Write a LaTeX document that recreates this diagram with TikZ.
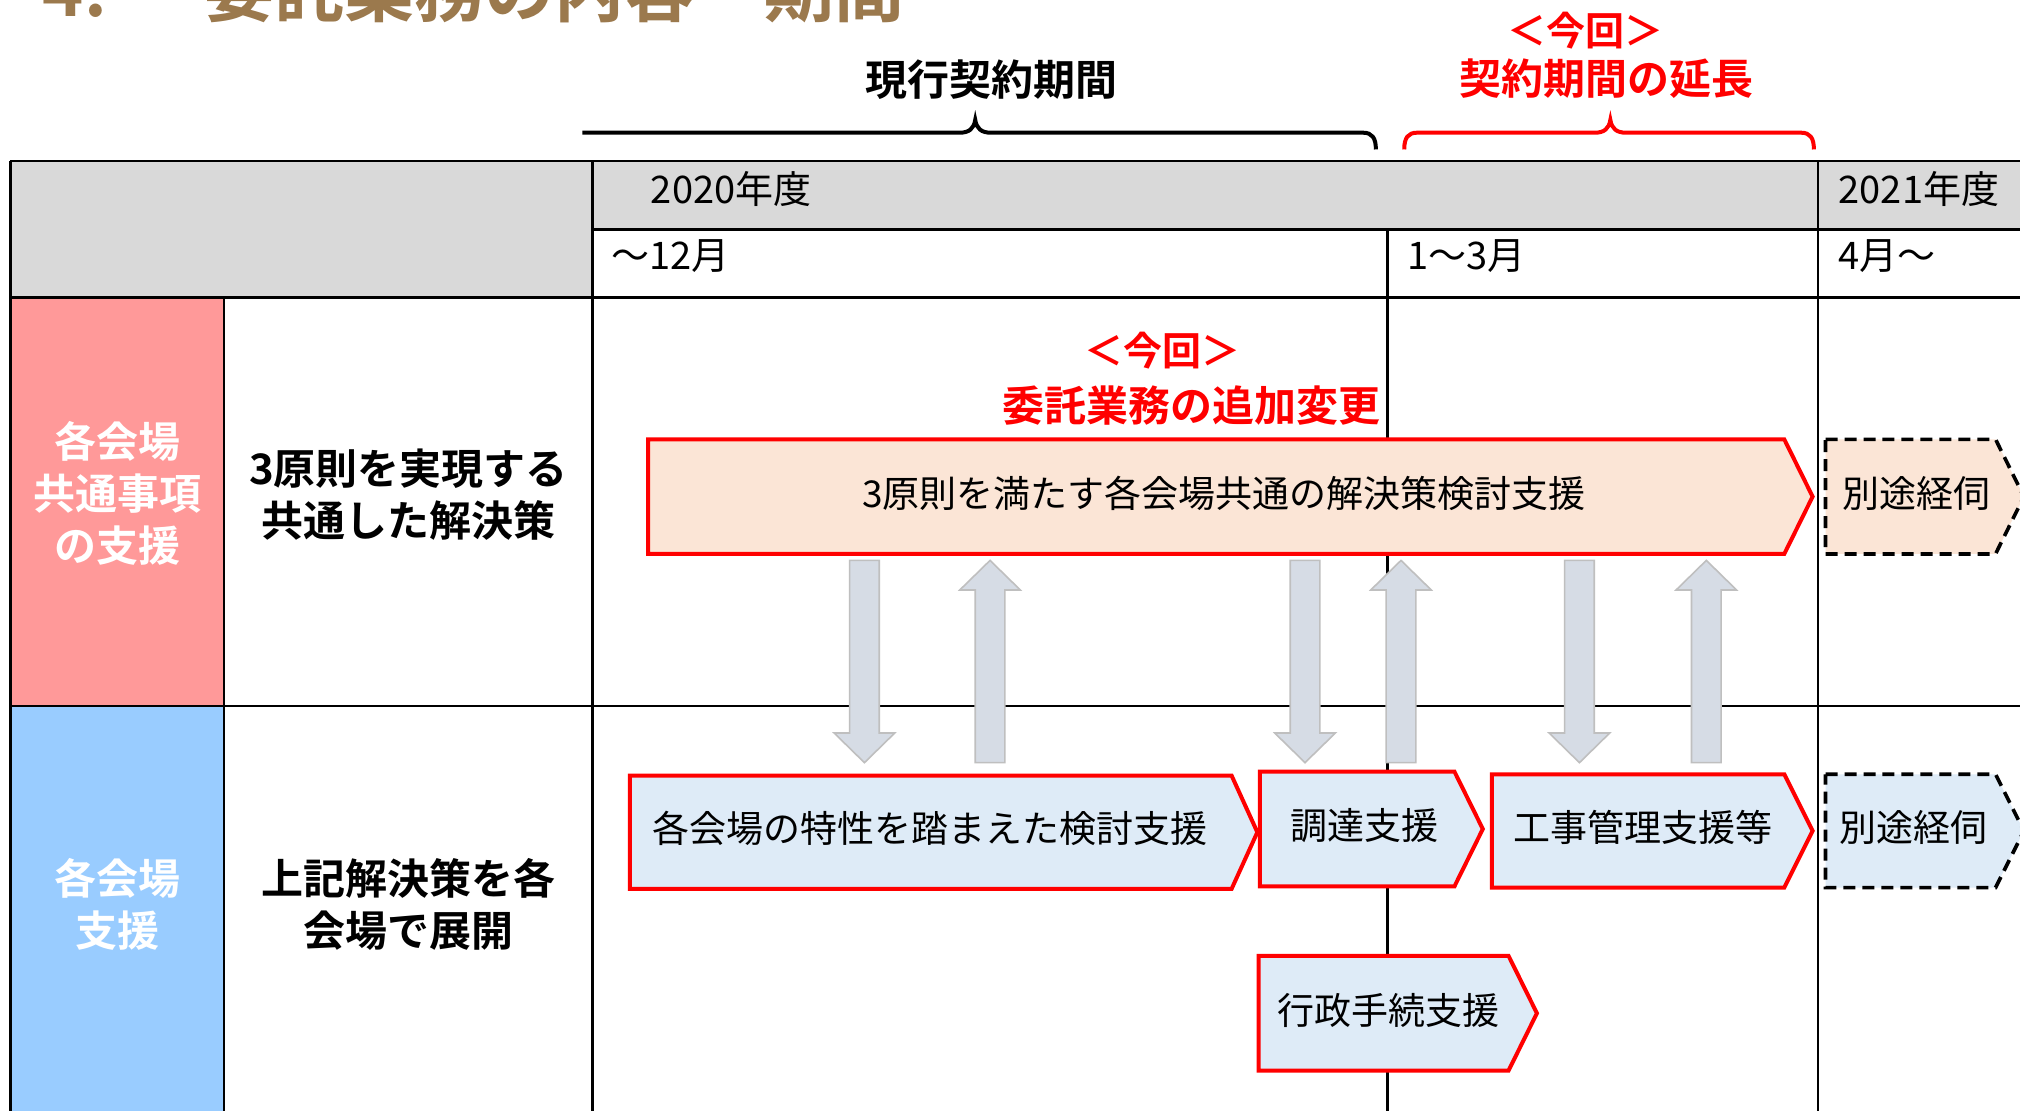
\documentclass[tikz,border=0pt]{standalone}
\usepackage{fontspec}
\setmainfont{Noto Sans CJK JP}[BoldFont={* Bold}]
\definecolor{titlebrown}{RGB}{155,121,77}
\definecolor{hdrgray}{RGB}{217,217,217}
\definecolor{pinkcell}{RGB}{255,153,153}
\definecolor{bluecell}{RGB}{153,204,255}
\definecolor{peach}{RGB}{251,229,214}
\definecolor{lightblue}{RGB}{222,235,247}
\definecolor{arrowgray}{RGB}{214,220,229}
\definecolor{arrowedge}{RGB}{191,191,191}
\definecolor{myred}{RGB}{255,0,0}
\tikzset{
  grid/.style={line width=1.2pt, black},
  hdrtxt/.style={anchor=west, inner sep=0pt, font=\fontsize{19pt}{23pt}\selectfont},
  boxtxt/.style={inner sep=0pt, font=\fontsize{18.5pt}{22pt}\selectfont},
  boldlbl/.style={inner sep=0pt, align=center, font=\bfseries\fontsize{21pt}{26pt}\selectfont},
  catlbl/.style={boldlbl, text=white},
  redlbl/.style={inner sep=0pt, align=center, text=myred, font=\bfseries\fontsize{21pt}{26pt}\selectfont},
  redbox/.style={draw=myred, line width=2pt, line join=miter},
  dashbox/.style={draw=black, line width=1.8pt, dash pattern=on 6pt off 3.5pt},
  grayarrow/.style={fill=arrowgray, draw=arrowedge, line width=0.8pt},
  brace/.style={line width=2pt},
}
\begin{document}
\begin{tikzpicture}[x=0.6442pt, y=-0.6442pt]
\clip (0,0) rectangle (1568,862);
\fill[white] (0,0) rectangle (1568,862);

% title (cut at top, as in the reference)
\node[anchor=base west, inner sep=0pt, text=titlebrown,
      font=\bfseries\fontsize{35pt}{40pt}\selectfont] (title) at (33,13)
      {4.\hspace{1.4em}委託業務の内容・期間};

% period labels and braces
\node[boldlbl] (cur) at (770,62) {現行契約期間};
\node[redlbl, font=\bfseries\fontsize{19.5pt}{24pt}\selectfont] (extnow) at (1231,24) {＜今回＞};
\node[redlbl] (ext) at (1247,61) {契約期間の延長};
\draw[brace] (452,103) -- (745,103) .. controls (752,103) and (756,100) .. (757,93)
   .. controls (758,100) and (762,103) .. (769,103) -- (1058,103)
   .. controls (1065,103) and (1068,107) .. (1068,116);
\draw[brace, myred] (1090,116) .. controls (1090,107) and (1093,103) .. (1100,103)
   -- (1238,103) .. controls (1245,103) and (1249,100) .. (1250,93)
   .. controls (1251,100) and (1255,103) .. (1262,103) -- (1398,103)
   .. controls (1405,103) and (1408,107) .. (1408,116);

% table fills
\fill[hdrgray] (8,125) rectangle (1570,178);
\fill[hdrgray] (8,178) rectangle (460,231);
\fill[pinkcell] (8,231) rectangle (174,548);
\fill[bluecell] (8,548) rectangle (174,870);

% table lines
\draw[grid] (8,125) -- (1570,125);
\draw[grid] (460,178) -- (1570,178);
\draw[grid] (8,231) -- (1570,231);
\draw[grid] (8,548) -- (1570,548);
\draw[grid] (8,125) -- (8,870);
\draw[grid] (174,231) -- (174,870);
\draw[grid] (460,125) -- (460,870);
\draw[grid] (1077,178) -- (1077,870);
\draw[grid] (1411,125) -- (1411,870);

% header texts
\node[hdrtxt] (y2020) at (505,147) {2020年度};
\node[hdrtxt] (y2021) at (1427,147) {2021年度};
\node[hdrtxt] (m12) at (474,199) {～12月};
\node[hdrtxt] (m13) at (1092,199) {1～3月};
\node[hdrtxt] (m4) at (1427,199) {4月～};

% left column labels
\node[catlbl] (cat1) at (91,383) {各会場\\共通事項\\の支援};
\node[catlbl] (cat2) at (91,702) {各会場\\支援};
\node[boldlbl] (desc1) at (317,384) {3原則を実現する\\共通した解決策};
\node[boldlbl] (desc2) at (317,702) {上記解決策を各\\会場で展開};

% red note
\node[redlbl, font=\bfseries\fontsize{19.5pt}{24pt}\selectfont] (now2) at (902,272) {＜今回＞};
\node[redlbl] (add) at (925,315) {委託業務の追加変更};

% big upper box
\filldraw[redbox, fill=peach] (503,341) -- (1385,341) -- (1407,385.5) -- (1385,430) -- (503,430) -- cycle;
\node[boxtxt] (common) at (950,383) {3原則を満たす各会場共通の解決策検討支援};
\filldraw[dashbox, fill=peach] (1417,341) -- (1549,341) -- (1571,385.5) -- (1549,430) -- (1417,430) -- cycle;
\node[boxtxt] (sep1) at (1488,383) {別途経伺};

% lower boxes
\filldraw[redbox, fill=lightblue] (489,602) -- (956,602) -- (976,646) -- (956,690) -- (489,690) -- cycle;
\node[boxtxt] (venue) at (722,643) {各会場の特性を踏まえた検討支援};
\filldraw[redbox, fill=lightblue] (978,599) -- (1129,599) -- (1151,643.5) -- (1129,688) -- (978,688) -- cycle;
\node[boxtxt] (proc) at (1059,641) {調達支援};
\filldraw[redbox, fill=lightblue] (1158,601) -- (1385,601) -- (1407,645) -- (1385,689) -- (1158,689) -- cycle;
\node[boxtxt] (const) at (1275,642) {工事管理支援等};
\filldraw[dashbox, fill=lightblue] (1417,601) -- (1549,601) -- (1571,645) -- (1549,689) -- (1417,689) -- cycle;
\node[boxtxt] (sep2) at (1485,642) {別途経伺};
\filldraw[redbox, fill=lightblue] (977,742) -- (1171,742) -- (1193,786.5) -- (1171,831) -- (977,831) -- cycle;
\node[boxtxt] (admin) at (1078,784) {行政手続支援};

% gray block arrows
\foreach \x in {671,1013,1226}{
  \filldraw[grayarrow] (\x-11.5,435) -- (\x+11.5,435) -- (\x+11.5,569) -- (\x+23.5,569)
     -- (\x,592) -- (\x-23.5,569) -- (\x-11.5,569) -- cycle;
}
\foreach \x in {768.5,1087.5,1324.5}{
  \filldraw[grayarrow] (\x,435) -- (\x+23.5,458) -- (\x+11.5,458) -- (\x+11.5,592)
     -- (\x-11.5,592) -- (\x-11.5,458) -- (\x-23.5,458) -- cycle;
}
\end{tikzpicture}
\end{document}
